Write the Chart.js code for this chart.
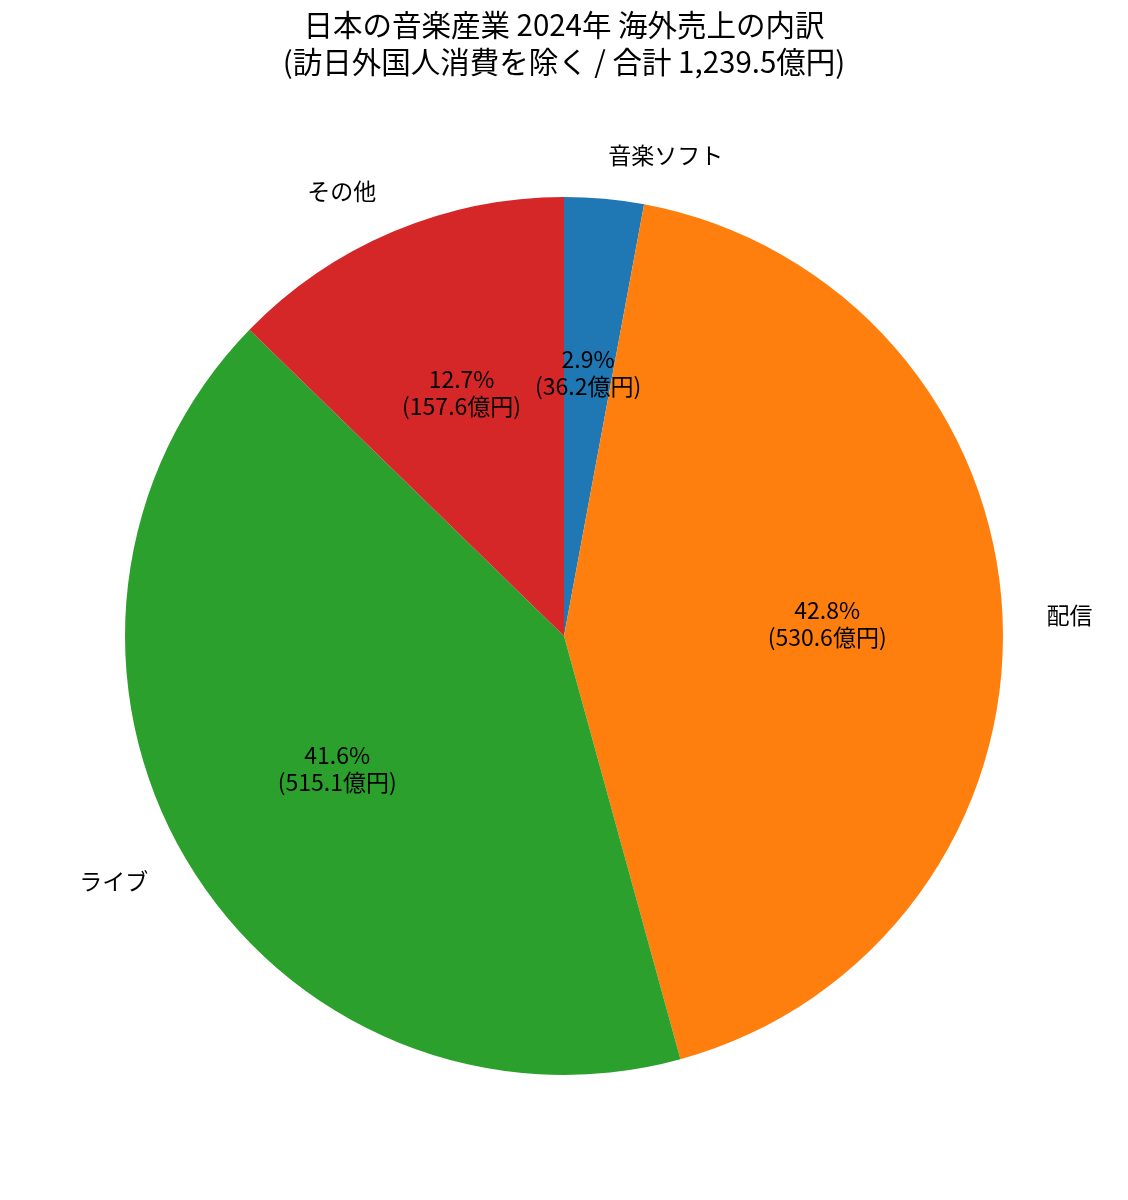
<!DOCTYPE html>
<html>
<head>
<meta charset="utf-8">
<script src="https://cdn.jsdelivr.net/npm/chart.js@4/dist/chart.umd.min.js"></script>
<style>
html,body{margin:0;padding:0;background:#fff;}
#wrap{width:1128px;height:1200px;}
</style>
</head>
<body>
<div id="wrap"><canvas id="c" width="1128" height="1200"></canvas></div>
<script>
const titleLines = ["日本の音楽産業 2024年 海外売上の内訳", "(訪日外国人消費を除く / 合計 1,239.5億円)"];
const categories = ["音楽ソフト", "配信", "ライブ", "その他"];
const valuesOku = [36.2, 530.6, 515.1, 157.6];
const sliceColors = ["#1f77b4", "#ff7f0e", "#2ca02c", "#d62728"];
const unitLabel = "億円";

const FONT = "'Noto Sans CJK JP', 'Noto Sans', sans-serif";

const labelPlugin = {
  id: 'pieLabels',
  afterDatasetsDraw(chart) {
    const ctx = chart.ctx;
    const meta = chart.getDatasetMeta(0);
    const data = chart.data.datasets[0].data;
    const total = data.reduce((a, b) => a + b, 0);
    ctx.save();
    ctx.fillStyle = '#000';
    meta.data.forEach((arc, i) => {
      const p = arc.getProps(['x', 'y', 'startAngle', 'endAngle', 'outerRadius'], true);
      const mid = (p.startAngle + p.endAngle) / 2;
      const cx = Math.cos(mid), sy = Math.sin(mid);
      // outer category label
      const lx = p.x + cx * p.outerRadius * 1.1;
      const ly = p.y + sy * p.outerRadius * 1.1;
      ctx.font = "23px " + FONT;
      ctx.textBaseline = 'middle';
      ctx.textAlign = cx >= 0 ? 'left' : 'right';
      ctx.fillText(chart.data.labels[i], lx, ly);
      // inner percent label
      const px = p.x + cx * p.outerRadius * 0.6;
      const py = p.y + sy * p.outerRadius * 0.6;
      const pct = (data[i] / total * 100).toFixed(1) + "%";
      const amt = "(" + data[i].toFixed(1) + unitLabel + ")";
      ctx.textAlign = 'center';
      ctx.fillText(pct, px, py - 14.5);
      ctx.fillText(amt, px, py + 12.5);
    });
    ctx.restore();
  },
  afterDraw(chart) {
    const ctx = chart.ctx;
    ctx.save();
    ctx.fillStyle = '#000';
    ctx.font = "29.5px " + FONT;
    ctx.textAlign = 'center';
    ctx.textBaseline = 'middle';
    ctx.fillText(titleLines[0], 564, 25);
    ctx.fillText(titleLines[1], 564, 62);
    ctx.restore();
  }
};

new Chart(document.getElementById('c'), {
  type: 'pie',
  data: {
    labels: categories,
    datasets: [{
      data: valuesOku,
      backgroundColor: sliceColors,
      borderWidth: 0,
      hoverOffset: 0
    }]
  },
  options: {
    responsive: false,
    animation: false,
    devicePixelRatio: 1,
    layout: { padding: { top: 197, bottom: 125, left: 125, right: 125 } },
    plugins: {
      legend: { display: false },
      tooltip: { enabled: false },
      title: { display: false }
    }
  },
  plugins: [labelPlugin]
});
</script>
</body>
</html>
